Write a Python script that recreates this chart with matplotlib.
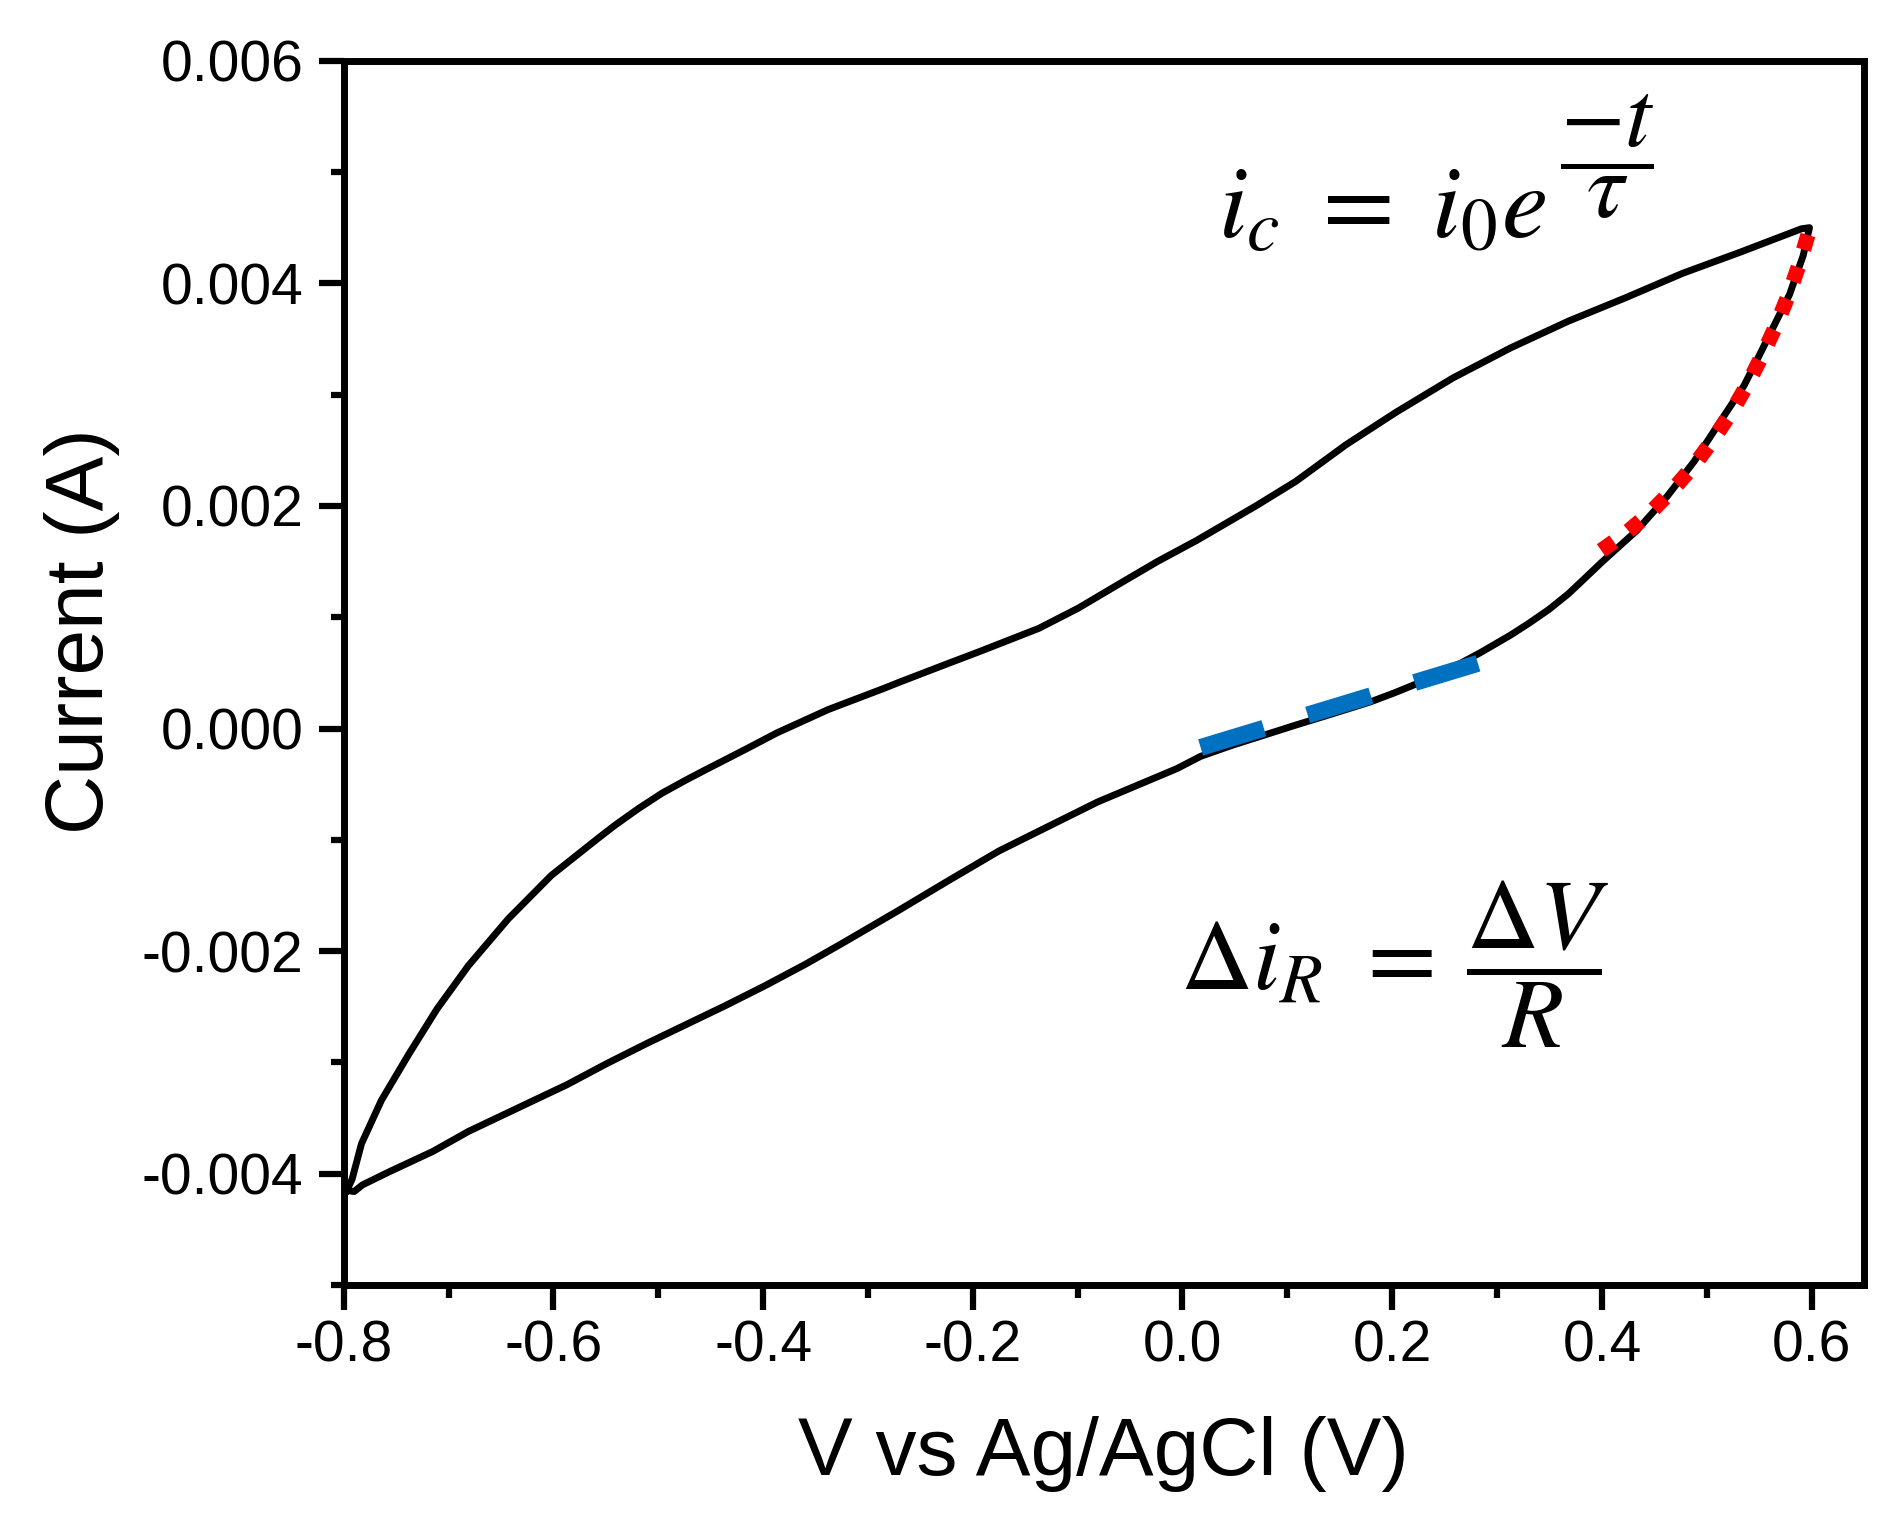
import numpy as np
import matplotlib
matplotlib.use("Agg")
import matplotlib.pyplot as plt
from matplotlib.ticker import MultipleLocator, FormatStrFormatter

plt.rcParams['font.family'] = ['Liberation Sans', 'DejaVu Sans']
plt.rcParams['axes.unicode_minus'] = False
plt.rcParams['mathtext.fontset'] = 'stix'

# forward scan (upper branch)
v_fwd = [-0.797, -0.792, -0.783, -0.764, -0.7375, -0.711, -0.681, -0.643, -0.602,
         -0.5565, -0.5414, -0.519, -0.4962, -0.473, -0.4547, -0.436, -0.4133, -0.387,
         -0.338, -0.285, -0.269, -0.222, -0.194, -0.137, -0.0997, -0.062, -0.024,
         0.0135, 0.070, 0.108, 0.156, 0.2034, 0.258, 0.313, 0.368, 0.4225, 0.477,
         0.532, 0.5903, 0.598]
i_fwd = [-0.00415, -0.00405, -0.00373, -0.00334, -0.00292, -0.00252, -0.00213, -0.00171,
         -0.00132, -0.00098, -0.00087, -0.00072, -0.00058, -0.00046, -0.00037, -0.00028,
         -0.00017, -0.00004, 0.00017, 0.00036, 0.00042, 0.00059, 0.00069, 0.00090,
         0.00108, 0.00129, 0.00150, 0.00169, 0.00200, 0.00222, 0.00255, 0.00284,
         0.00315, 0.00342, 0.00366, 0.00387, 0.00409, 0.00428, 0.00449, 0.00450]

# reverse scan (lower branch)
v_rev = [0.598, 0.592, 0.579, 0.5647, 0.55, 0.5355, 0.5137, 0.488, 0.4626, 0.4334,
         0.4005, 0.386, 0.368, 0.3495, 0.3311, 0.313, 0.2838, 0.258, 0.2228, 0.202,
         0.1794, 0.1456, 0.1077, 0.0777, 0.0475, 0.0173, -0.0053, -0.081, -0.175,
         -0.222, -0.27, -0.3227, -0.36, -0.398, -0.436, -0.4735, -0.511, -0.549,
         -0.587, -0.643, -0.681, -0.715, -0.756, -0.782, -0.790, -0.797]
i_rev = [0.00450, 0.00425, 0.00390, 0.00363, 0.00335, 0.00308, 0.00277, 0.00240, 0.00209,
         0.00178, 0.00150, 0.00137, 0.00121, 0.00107, 0.00095, 0.00084, 0.00068, 0.00055,
         0.00040, 0.00032, 0.00024, 0.00014, 0.00003, -0.00006, -0.00015, -0.00025,
         -0.00036, -0.00066, -0.00110, -0.00136, -0.00163, -0.00192, -0.00212, -0.00231,
         -0.00249, -0.00266, -0.00283, -0.00301, -0.00320, -0.00345, -0.00362, -0.00380,
         -0.00398, -0.00410, -0.00416, -0.00415]

# linear (resistive) segment
v_lin = [0.0173, 0.2832]
i_lin = [-0.00017, 0.00059]

# exponential (capacitive) fit
v_exp = [0.3994, 0.4235, 0.4472, 0.468, 0.4892, 0.5071, 0.5247, 0.5399, 0.5538,
         0.5666, 0.5786, 0.5885, 0.5976]
i_exp = [0.00160, 0.00176, 0.00195, 0.00215, 0.00238, 0.00261, 0.00286, 0.00311,
         0.00337, 0.00363, 0.00391, 0.00418, 0.00447]

fig = plt.figure(figsize=(19.04, 15.22), dpi=100)
ax = fig.add_axes([0.1805, 0.1557, 0.7985, 0.8044])

ax.plot(v_fwd + v_rev, i_fwd + i_rev, color='black', lw=5, solid_joinstyle='round')
ax.plot(v_lin, i_lin, color='#0070C0', lw=12.2, linestyle=(0, (3.9, 2.7)))
ax.plot(v_exp, i_exp, color='#FF0000', lw=11, linestyle=(0, (1, 1.2)))

ax.set_xlim(-0.8, 0.65)
ax.set_ylim(-0.005, 0.006)
ax.xaxis.set_major_locator(MultipleLocator(0.2))
ax.xaxis.set_minor_locator(MultipleLocator(0.1))
ax.yaxis.set_major_locator(MultipleLocator(0.002))
ax.yaxis.set_minor_locator(MultipleLocator(0.001))
ax.xaxis.set_major_formatter(FormatStrFormatter('%.1f'))
ax.yaxis.set_major_formatter(FormatStrFormatter('%.3f'))

for s in ax.spines.values():
    s.set_linewidth(5)
ax.tick_params(which='both', direction='out', width=4.5, top=False, right=False)
ax.tick_params(which='major', length=18, labelsize=41)
ax.tick_params(which='minor', length=9.5)
ax.tick_params(axis='x', which='major', pad=7)
ax.tick_params(axis='y', which='major', pad=11)

ax.set_xlabel('V vs Ag/AgCl (V)', fontsize=59, va='center')
ax.set_ylabel('Current (A)', fontsize=59, va='center')
ax.xaxis.set_label_coords(0.5, -0.138)
ax.yaxis.set_label_coords(-0.172, 0.534)

# equations
ax.text(0.5751, 0.8548, r'$i_c\hspace{0.31}=\hspace{0.31}i_0e$', transform=ax.transAxes,
        fontsize=75, ha='left', va='baseline')
ax.text(0.8, 0.9213, r'$\dfrac{-t}{\tau}$', transform=ax.transAxes,
        fontsize=68, ha='left', va='center')
ax.text(0.5501, 0.241, r'$\Delta i_R\hspace{0.36}=\hspace{0.22}\dfrac{\Delta V}{R}$',
        transform=ax.transAxes, fontsize=72, ha='left', va='baseline')

fig.savefig('out.png', dpi=100)
